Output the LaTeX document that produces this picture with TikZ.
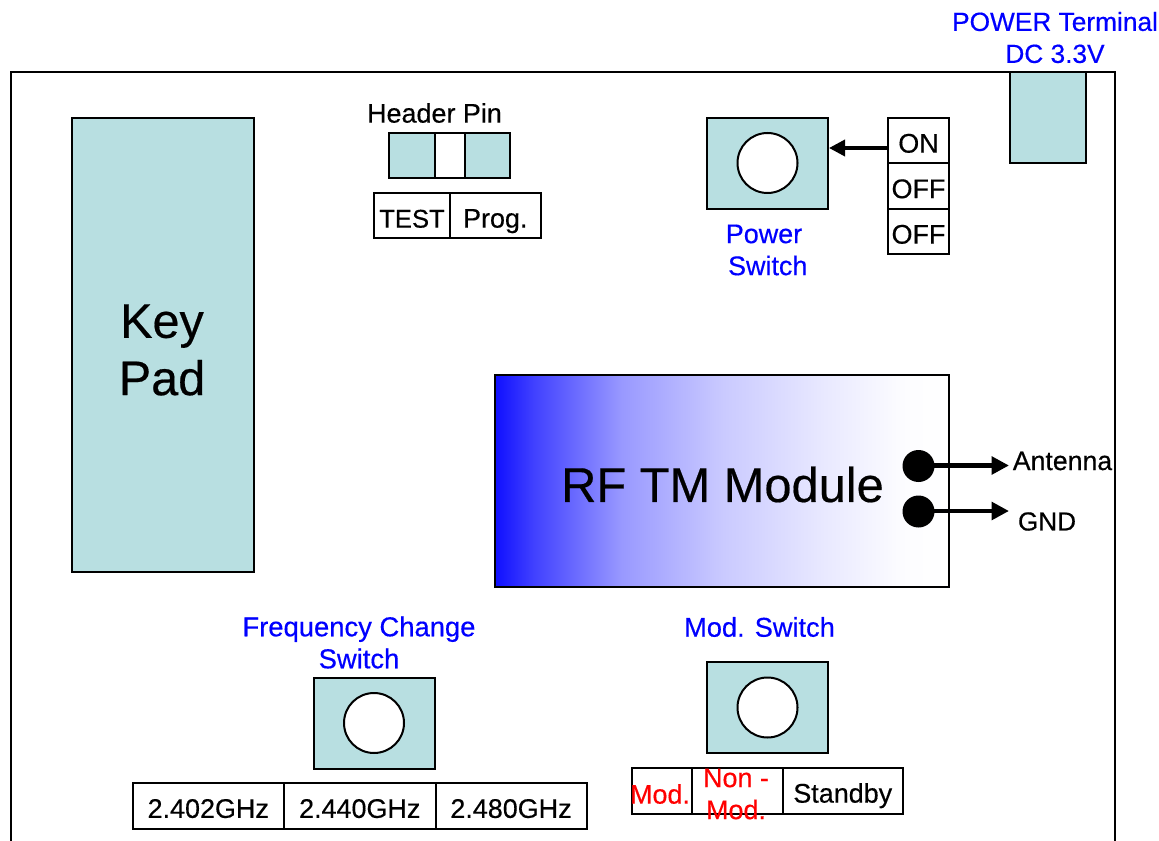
\documentclass[tikz,border=0pt]{standalone}
\usepackage{fontspec}
\setmainfont{Liberation Sans}[FakeBold=0.4]
\usetikzlibrary{arrows.meta}
\definecolor{teal0}{HTML}{B8DFE1}
\definecolor{bluetxt}{HTML}{0000FF}
\pgfdeclarehorizontalshading{rfgrad}{100bp}{color(0bp)=(blue!94!white); color(25bp)=(blue!94!white); color(29.2bp)=(blue!75!white); color(39bp)=(blue!40!white); color(50bp)=(blue!21!white); color(61bp)=(blue!9!white); color(70bp)=(blue!1!white); color(75bp)=(white); color(100bp)=(white)}
\tikzset{x=0.75pt,y=-0.75pt,
 panel/.style={draw=black,line width=1.5pt,fill=teal0,inner sep=0pt},
 cell/.style={draw=black,line width=1.5pt,fill=white,inner sep=0pt,font=\fontsize{20.2}{22}\selectfont,text height=17.8pt,text depth=0pt},
 lab/.style={inner sep=0pt,font=\fontsize{20.2}{24}\selectfont,text=black,align=center},
 blab/.style={lab,text=bluetxt},
 rlab/.style={lab,text=red},
 knob/.style={draw=black,line width=1.5pt,fill=white,circle,inner sep=0pt,minimum size=45pt},
 arrc/.style={line width=2.7pt,-{Stealth[length=12pt,width=12pt,inset=0pt]}},
 arr/.style={line width=4.2pt,-{Stealth[length=13pt,width=13pt,inset=0pt]}},
 arrb/.style={line width=3.6pt,-{Stealth[length=13pt,width=13pt,inset=0pt]}},
 port/.style={fill=black,circle,inner sep=0pt,minimum size=24pt}}
\newcommand{\bx}[6]{\node[#1,minimum width=#4*0.75pt,minimum height=#5*0.75pt,anchor=north west,xshift=-0.75pt,yshift=0.75pt] (#2) at #3 {#6};}
\begin{document}
\begin{tikzpicture}
\useasboundingbox (0,0) rectangle (1159,841);
\path[fill=white] (0,0) rectangle (1159,841);
\draw[line width=1.5pt] (11,841) -- (11,72) -- (1115,72) -- (1115,841);
\bx{panel}{keypad}{(71.5,118)}{182}{454}{}
\node[lab,font=\fontsize{36.4}{43}\selectfont] (keytxt) at (162,350) {Key\\Pad};
\bx{panel}{hdrA}{(389,133)}{46}{45}{}
\bx{cell}{hdrB}{(435,133)}{30}{45}{}
\bx{panel}{hdrC}{(465,133)}{45}{45}{}
\node[lab] (hdrlab) at (434.5,113) {Header Pin};
\bx{cell}{test}{(374,193)}{76}{45.5}{\fontsize{19.2}{22}\selectfont TEST}
\bx{cell}{prog}{(450,193)}{90.5}{45.5}{Prog.}
\bx{panel}{pw}{(707,118)}{121}{91}{}
\node[knob] (pwk) at (767.5,163) {};
\node[blab] (pwlab) at (764,250) {Power\\\ Switch};
\bx{cell}{on}{(888,118)}{61}{45.5}{ON}
\bx{cell}{off1}{(888,163.5)}{61}{45.5}{OFF}
\bx{cell}{off2}{(888,209)}{61}{45.5}{OFF}
\coordinate (onw) at (888,148);
\draw[arrc] (onw) -- (pw.east |- onw);
\bx{panel}{term}{(1009.5,72)}{76}{91}{}
\node[blab,font=\fontsize{19.7}{24}\selectfont] (termlab) at (1055,37.5) {POWER Terminal\\DC 3.3V};
\node[draw=black,line width=1.5pt,shading=rfgrad,minimum width=454*0.75pt,minimum height=212*0.75pt,inner sep=0pt,anchor=north west,xshift=-0.75pt,yshift=0.75pt] (rf) at (495,375) {};
\node[lab,font=\fontsize{36.6}{43}\selectfont] (rflab) at (722.5,484.5) {RF TM Module};
\node[port] (p1) at (918.5,466) {};
\node[port] (p2) at (918.5,511.5) {};
\coordinate (a1) at (1009,465.5);
\coordinate (a2) at (1009,511);
\draw[arr] (p1.center |- a1) -- (a1);
\draw[arrb] (p2.center |- a2) -- (a2);
\node[lab,font=\fontsize{20}{22}\selectfont] (ant) at (1062.5,461) {Antenna};
\node[lab,font=\fontsize{19.6}{22}\selectfont] (gnd) at (1047,521.5) {GND};
\node[blab,font=\fontsize{20.55}{24}\selectfont] (freqlab) at (359,642.5) {Frequency Change\\Switch};
\bx{panel}{fr}{(313.5,677.5)}{121.5}{91}{}
\node[knob] (frk) at (374,723) {};
\bx{cell}{f1}{(132.5,783)}{151.5}{46}{2.402GHz}
\bx{cell}{f2}{(284,783)}{151.5}{46}{2.440GHz}
\bx{cell}{f3}{(435.5,783)}{151}{46}{2.480GHz}
\node[blab,font=\fontsize{20.4}{24}\selectfont] (modlab) at (759.5,627) {Mod. Switch};
\bx{panel}{md}{(707,662)}{121}{91}{}
\node[knob] (mdk) at (767.5,707.5) {};
\bx{cell}{m1}{(631.5,768)}{60}{45.5}{}
\bx{cell}{m2}{(691.5,768)}{91}{45.5}{}
\bx{cell}{m3}{(782.5,768)}{120.5}{45.5}{Standby}
\node[rlab] (m1t) at (660,794) {Mod.};
\node[rlab] (m2t) at (736,794) {Non -\\Mod.};
\end{tikzpicture}
\end{document}
